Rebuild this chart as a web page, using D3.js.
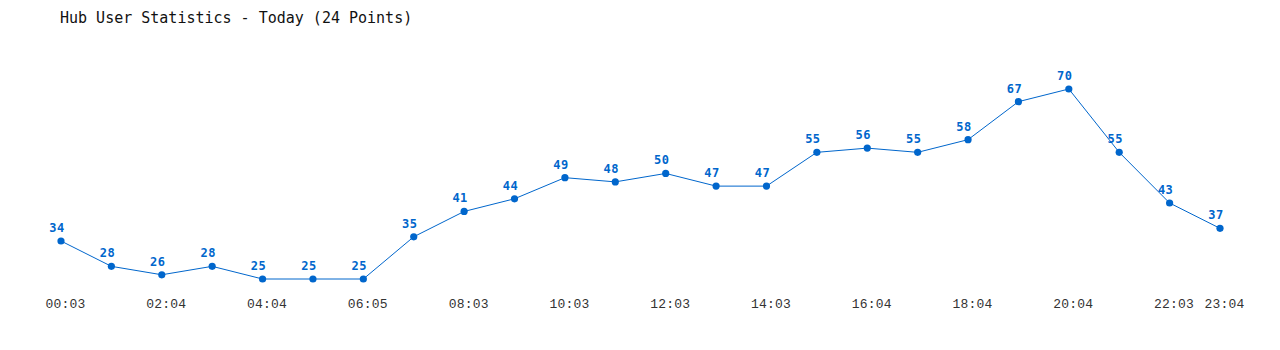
<!DOCTYPE html>
<html><head><meta charset="utf-8">
<script src="https://cdn.jsdelivr.net/npm/d3@7"></script>
<style>body{margin:0;background:#fff;}</style>
</head><body>
<svg id="c" width="1280" height="350"></svg>
<script>
const categories = ["00:03","01:03","02:04","03:04","04:04","05:04","06:05","07:04","08:03","09:03","10:03","11:03","12:03","13:03","14:03","15:04","16:04","17:04","18:04","19:04","20:04","21:03","22:03","23:04"];
const values = [34,28,26,28,25,25,25,35,41,44,49,48,50,47,47,55,56,55,58,67,70,55,43,37];
const tickLabels = ["00:03","02:04","04:04","06:05","08:03","10:03","12:03","14:03","16:04","18:04","20:04","22:03","23:04"];
const title = "Hub User Statistics - Today (24 Points)";

const svg = d3.select("#c");
const color = "#0066cc";
const x = d3.scalePoint().domain(categories).range([61, 1220]);
const y = d3.scaleLinear().domain([25, 70]).range([279, 89]);

svg.append("text").attr("x", 60).attr("y", 23)
  .attr("font-family", "DejaVu Sans Mono").attr("font-size", 15).attr("fill", "#111")
  .text(title);

const axis = d3.axisBottom(x).tickValues(tickLabels).tickSize(0).tickPadding(0);
const g = svg.append("g").attr("transform", "translate(4,308)").call(axis);
g.select(".domain").remove();
g.selectAll("text").attr("font-family", "Liberation Mono").attr("font-size", 13)
  .attr("fill", "#333").attr("dy", 0).attr("letter-spacing", 0.2);

const line = d3.line().x((d, i) => x(categories[i])).y(d => y(d));
svg.append("path").datum(values).attr("d", line).attr("fill", "none")
  .attr("stroke", color).attr("stroke-width", 1);

svg.selectAll("circle.pt").data(values).join("circle")
  .attr("cx", (d, i) => x(categories[i])).attr("cy", d => y(d)).attr("r", 3.6).attr("fill", color);

svg.selectAll("text.val").data(values).join("text").attr("class", "val")
  .attr("x", (d, i) => x(categories[i]) - 4).attr("y", d => y(d) - 9)
  .attr("text-anchor", "middle").attr("font-family", "DejaVu Sans Mono").attr("font-weight", "bold")
  .attr("font-size", 12).attr("fill", color).attr("letter-spacing", 0.5)
  .text(d => d);
</script>
</body></html>
